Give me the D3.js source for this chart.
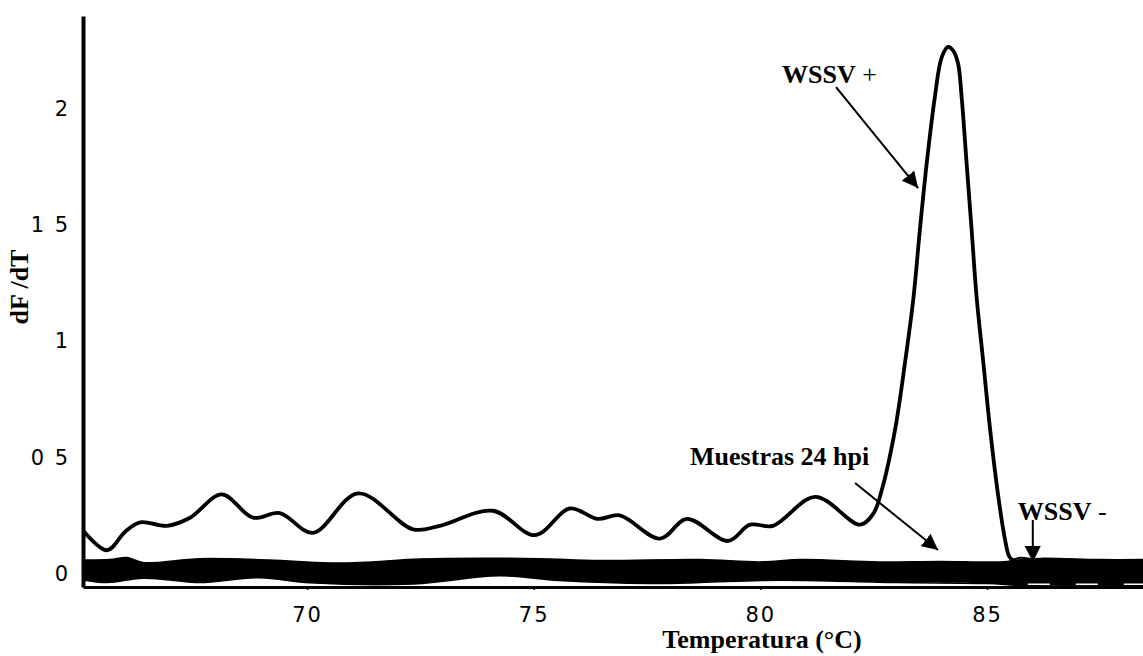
<!DOCTYPE html>
<html>
<head>
<meta charset="utf-8">
<script src="https://cdn.jsdelivr.net/npm/d3@7"></script>
<style>
    body { margin: 0; background: #fff; }
    svg { display: block; }
</style>
</head>
<body>
<svg id="svg" width="1143" height="656"></svg>
<script>
//Data (temperature in °C, dF/dT)
const POS_TEMPS = [65.06, 65.59, 65.99, 66.32, 66.91, 67.42, 68.12, 68.81, 69.40, 70.13,
    71.13, 72.34, 72.93, 74.10, 75.03, 75.80, 76.40, 76.90, 77.79, 78.38,
    79.29, 79.77, 80.28, 81.21, 82.20, 82.50, 82.68, 82.97, 83.19, 83.38,
    83.52, 83.67, 83.85, 84.00, 84.14, 84.25, 84.36, 84.44, 84.55, 84.66,
    84.77, 84.92, 85.07, 85.25, 85.40, 85.50, 85.65, 86.00, 86.80, 87.60,
    88.44];
const POS_VALUES = [0.185, 0.10, 0.18, 0.22, 0.205, 0.24, 0.34, 0.24, 0.26, 0.175,
    0.345, 0.19, 0.205, 0.27, 0.165, 0.28, 0.235, 0.25, 0.15, 0.235,
    0.14, 0.21, 0.205, 0.33, 0.21, 0.26, 0.36, 0.617, 0.905, 1.19,
    1.48, 1.765, 2.05, 2.22, 2.265, 2.25, 2.195, 2.05, 1.765, 1.48,
    1.19, 0.905, 0.617, 0.33, 0.144, 0.07, 0.05, 0.05, 0.045, 0.04,
    0.04];

//Samples 24 hpi: band of overlapping traces (upper / lower envelope)
const BAND_TOP_TEMPS = [65.06, 65.65, 66.03, 66.38, 67.64, 69.18, 70.73, 72.49, 73.82, 75.14,
    76.46, 78.67, 80.00, 80.90, 82.60, 83.96, 85.29, 85.80, 86.17, 87.49, 88.44];
const BAND_TOP = [0.058, 0.06, 0.069, 0.047, 0.064, 0.058, 0.045, 0.062, 0.066, 0.064,
    0.056, 0.06, 0.05, 0.06, 0.05, 0.052, 0.05, 0.06, 0.065, 0.06, 0.06];
const BAND_BOTTOM_TEMPS = [65.06, 65.59, 66.38, 66.97, 67.64, 68.96, 70.07, 72.36, 74.24, 75.56,
    77.54, 78.67, 80.00, 81.00, 83.00, 85.00, 85.80, 88.44];
const BAND_BOTTOM = [-0.028, -0.039, -0.02, -0.028, -0.039, -0.018, -0.04, -0.045, -0.01, -0.03,
    -0.043, -0.039, -0.03, -0.03, -0.039, -0.043, -0.052, -0.052];

//Negative control
const NEG_TEMPS = [85.50, 85.75, 85.95, 86.10, 86.40];
const NEG_VALUES = [0.055, 0.068, 0.062, 0.058, 0.06];

const X_TICKS = [70, 75, 80, 85];
const Y_TICKS = [0, 0.5, 1, 1.5, 2];

//Annotations: label position and arrows, in data units
const LABELS = [
    { bold: "WSSV", rest: " +", t: 80.48, v: 2.11 },
    { bold: "Muestras 24 hpi", rest: "", t: 78.45, v: 0.467 },
    { bold: "WSSV", rest: " -", t: 85.68, v: 0.23 }
];
const ARROWS = [
    { t1: 81.67, v1: 2.092, t2: 83.48, v2: 1.658 },
    { t1: 82.09, v1: 0.389, t2: 83.92, v2: 0.101 },
    { t1: 86.01, v1: 0.23, t2: 86.01, v2: 0.049 }
];

const SERIF = "'Liberation Serif', 'Times New Roman', serif";
const TICK_FONT = "'DejaVu Sans', sans-serif";

window.addEventListener("load", buildGraph);

function buildGraph()
{
    let svg = d3.select("svg");

    let x_scale = d3.scaleLinear().domain([65.059, 88.441]).range([83, 1143]);
    let y_scale = d3.scaleLinear().domain([-0.058, 2.398]).range([587, 16]);

    //Arrow head
    svg.append("defs").append("marker")
        .attr("id", "head")
        .attr("viewBox", "0 0 10 10")
        .attr("refX", 10).attr("refY", 5)
        .attr("markerWidth", 16).attr("markerHeight", 16)
        .attr("markerUnits", "userSpaceOnUse")
        .attr("orient", "auto")
        .append("path")
        .attr("d", "M0,0 L10,5 L0,10 Z")
        .attr("fill", "#000");

    //Band of samples
    let curve = d3.curveCatmullRom.alpha(0.5);
    let topPath = d3.line()
        .x((d, i) => x_scale(BAND_TOP_TEMPS[i]))
        .y(d => y_scale(d))
        .curve(curve)(BAND_TOP);
    let bottomRev = BAND_BOTTOM.slice().reverse();
    let bottomTempsRev = BAND_BOTTOM_TEMPS.slice().reverse();
    let bottomPath = d3.line()
        .x((d, i) => x_scale(bottomTempsRev[i]))
        .y(d => y_scale(d))
        .curve(curve)(bottomRev);
    svg.append("path")
        .attr("d", topPath + "L" + bottomPath.slice(1) + "Z")
        .attr("fill", "#000")
        .attr("stroke", "#000")
        .attr("stroke-width", 1.5);

    //White gap line near the bottom right of the band
    svg.append("path")
        .attr("d", d3.line()([[x_scale(85.9), y_scale(-0.046)], [x_scale(88.44), y_scale(-0.046)]]))
        .attr("stroke", "#fff")
        .attr("stroke-width", 1.5)
        .attr("stroke-dasharray", "22,26");

    //Negative control
    svg.append("path")
        .datum(NEG_VALUES)
        .attr("d", d3.line()
            .x((d, i) => x_scale(NEG_TEMPS[i]))
            .y(d => y_scale(d))
            .curve(d3.curveCatmullRom))
        .attr("fill", "none")
        .attr("stroke", "#000")
        .attr("stroke-width", 2);

    //Positive control
    svg.append("path")
        .datum(POS_VALUES)
        .attr("d", d3.line()
            .x((d, i) => x_scale(POS_TEMPS[i]))
            .y(d => y_scale(d))
            .curve(curve))
        .attr("fill", "none")
        .attr("stroke", "#000")
        .attr("stroke-width", 3.8)
        .attr("stroke-linejoin", "round");

    //Axes
    let x_axis = d3.axisBottom(x_scale).tickValues(X_TICKS).tickSize(3).tickSizeOuter(0).tickPadding(17);
    let y_axis = d3.axisLeft(y_scale).tickValues(Y_TICKS).tickSize(0).tickPadding(15)
        .tickFormat(d => String(d).replace(".", "\u2002"));

    let gx = svg.append("g").attr("transform", "translate(0,587)").call(x_axis);
    gx.select(".domain").attr("stroke-width", 3);
    gx.selectAll(".tick line").attr("stroke-width", 1.5);
    gx.selectAll("text")
        .attr("font-family", TICK_FONT)
        .attr("font-size", 21)
        .attr("letter-spacing", 2)
        .attr("fill", "#000");

    let gy = svg.append("g").attr("transform", "translate(83,0)").call(y_axis);
    gy.select(".domain").attr("stroke-width", 4);
    gy.selectAll("text")
        .attr("font-family", TICK_FONT)
        .attr("font-size", 21)
        .attr("fill", "#000");

    //Axis labels
    svg.append("text")
        .attr("x", 762)
        .attr("y", 648)
        .attr("text-anchor", "middle")
        .attr("font-family", SERIF)
        .attr("font-weight", "bold")
        .attr("font-size", 26)
        .text("Temperatura (°C)");

    svg.append("text")
        .attr("transform", "translate(28,287) rotate(-90)")
        .attr("text-anchor", "middle")
        .attr("font-family", SERIF)
        .attr("font-weight", "bold")
        .attr("font-size", 26)
        .text("dF /dT");

    //Annotations
    LABELS.forEach(function (lab) {
        let t = svg.append("text")
            .attr("x", x_scale(lab.t))
            .attr("y", y_scale(lab.v))
            .attr("font-family", SERIF)
            .attr("font-size", 26)
            .attr("xml:space", "preserve");
        t.append("tspan").attr("font-weight", "bold").text(lab.bold);
        if (lab.rest) t.append("tspan").text(lab.rest);
    });

    svg.append("g")
        .selectAll("line")
        .data(ARROWS)
        .enter().append("line")
        .attr("x1", d => x_scale(d.t1))
        .attr("y1", d => y_scale(d.v1))
        .attr("x2", d => x_scale(d.t2))
        .attr("y2", d => y_scale(d.v2))
        .attr("stroke", "#000")
        .attr("stroke-width", 2)
        .attr("marker-end", "url(#head)");
}
</script>
</body>
</html>
